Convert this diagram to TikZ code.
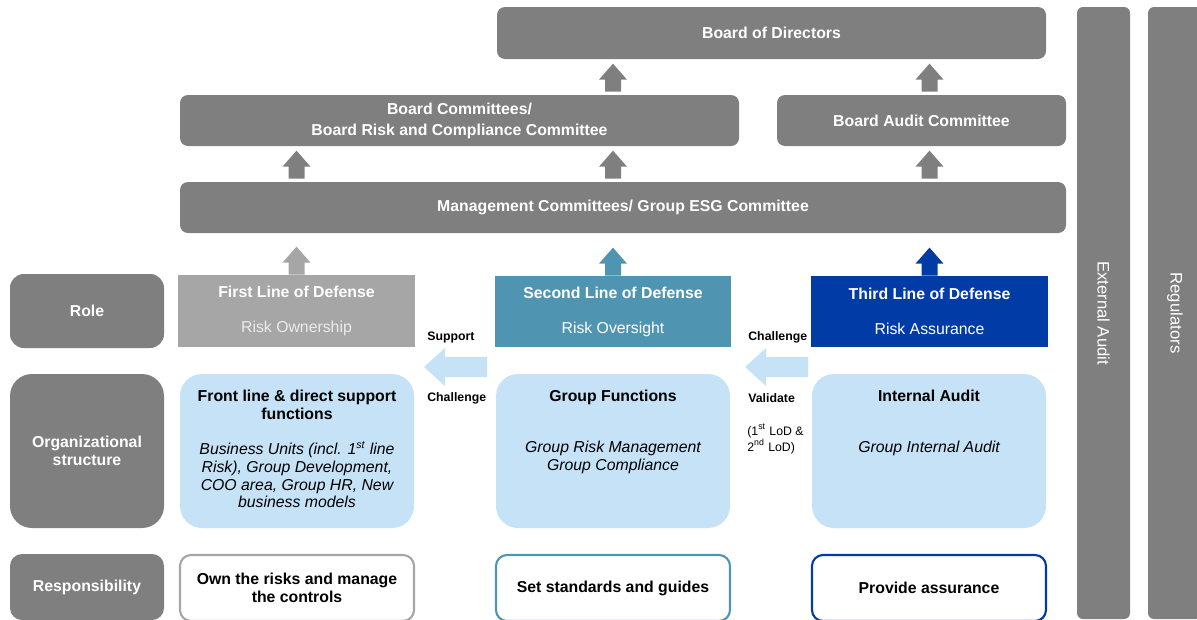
\documentclass[tikz,border=0pt]{standalone}
\usepackage{fontspec}
\setmainfont{Liberation Sans}
\definecolor{boxgray}{HTML}{7F7F7F}
\definecolor{lodgray}{HTML}{A6A6A6}
\definecolor{lodteal}{HTML}{4F95B1}
\definecolor{lodblue}{HTML}{003BA6}
\definecolor{paleblue}{HTML}{C5E2F7}
\def\pxu{0.02cm}
\tikzset{
  sz/.style 2 args={minimum width=#1*\pxu,minimum height=#2*\pxu,inner sep=0pt},
  base/.style={align=center,text=white,font=\fontsize{9}{10}\selectfont\bfseries},
  greybox/.style={base,fill=boxgray,rounded corners=0.16cm},
  rowbox/.style={base,fill=boxgray,rounded corners=#1},
  lodbox/.style={base,fill=#1},
  orgbox/.style={fill=paleblue,rounded corners=0.44cm},
  respbox/.style={draw=#1,line width=1.2pt,fill=white,rounded corners=0.22cm,align=center,font=\fontsize{9}{10}\selectfont\bfseries},
  sidebar/.style={base,font=\fontsize{9.5}{11}\selectfont,fill=boxgray,rounded corners=0.12cm,rotate=-90},
  hd/.style={align=center,font=\fontsize{9}{10}\selectfont\bfseries,inner sep=0pt,anchor=north},
  body/.style={align=center,font=\fontsize{9}{10}\selectfont\itshape,inner sep=0pt,anchor=north},
  side/.style={align=left,font=\fontsize{7}{8}\selectfont\bfseries,inner sep=0pt,anchor=west},
  uparr/.pic={\path[pic actions] (-8,-3) -- (-8,-15) -- (-14,-15) -- (0,-31) -- (14,-15) -- (8,-15) -- (8,-3) -- cycle;},
  leftarr/.pic={\path[pic actions] (0,0) -- (21,-19) -- (21,-10) -- (63,-10) -- (63,10) -- (21,10) -- (21,19) -- cycle;}
}
\begin{document}
\begin{tikzpicture}[x=0.02cm,y=-0.02cm]
  \useasboundingbox (0,0) rectangle (1197,619);
  \clip (0,0) rectangle (1197,619);
  % governance bodies
  \node[greybox,sz={549}{52}] (bod) at (771.5,33) {Board of Directors};
  \node[greybox,sz={559}{51}] (bc) at (459.5,120.5) {Board Committees/\\[2pt]Board Risk and Compliance Committee};
  \node[greybox,sz={289}{51}] (bac) at (921.5,120.5) {Board Audit Committee};
  \node[greybox,sz={886}{51}] (mgmt) at (623,207.5) {Management Committees/ Group ESG Committee};
  % external columns
  \node[sidebar,sz={612}{53}] (ext) at (1103.5,313) {External Audit};
  \node[sidebar,sz={612}{54}] (reg) at (1175,313) {Regulators};
  % row headers
  \node[rowbox=0.28cm,sz={154}{74}] (role) at (87,311) {Role};
  \node[rowbox=0.44cm,sz={154}{154}] (org) at (87,451) {Organizational\\structure};
  \node[rowbox=0.24cm,sz={154}{66}] (resp) at (87,587) {Responsibility};
  % lines of defense
  \node[lodbox=lodgray,sz={237}{72}] (l1) at (296.5,311) {First Line of Defense\\[10pt]{\mdseries\color{white!92!black}Risk Ownership}};
  \node[lodbox=lodteal,sz={236}{71}] (l2) at (613,311.5) {Second Line of Defense\\[10pt]{\mdseries Risk Oversight}};
  \node[lodbox=lodblue,sz={237}{71}] (l3) at (929.5,311.5) {Third Line of Defense\\[10pt]{\mdseries Risk Assurance}};
  % organizational structure
  \node[orgbox,sz={234}{154}] (f1) at (297,451) {};
  \node[orgbox,sz={234}{154}] (f2) at (613,451) {};
  \node[orgbox,sz={234}{154}] (f3) at (929,451) {};
  \node[hd] (f1h) at (297,390) {Front line \& direct support\\functions};
  \node[body] (f1b) at (297,441) {Business Units (incl. 1\textsuperscript{st} line\\Risk), Group Development,\\COO area, Group HR, New\\business models};
  \node[hd] (f2h) at (613,390) {Group Functions};
  \node[body] (f2b) at (613,441) {Group Risk Management\\Group Compliance};
  \node[hd] (f3h) at (929,390) {Internal Audit};
  \node[body] (f3b) at (929,441) {Group Internal Audit};
  % responsibilities
  \node[respbox=lodgray,sz={234}{66}] (r1) at (297,588) {Own the risks and manage\\the controls};
  \node[respbox=lodteal,sz={234}{66}] (r2) at (613,588) {Set standards and guides};
  \node[respbox=lodblue,sz={234}{66}] (r3) at (929,588) {Provide assurance};
  % upward arrows
  \pic[fill=boxgray] at (l2 |- bc.north) {uparr};
  \pic[fill=boxgray] at (l3 |- bac.north) {uparr};
  \pic[fill=boxgray] at (l1 |- mgmt.north) {uparr};
  \pic[fill=boxgray] at (l2 |- mgmt.north) {uparr};
  \pic[fill=boxgray] at (l3 |- mgmt.north) {uparr};
  \pic[fill=lodgray] at ([yshift=-0.06cm]l1.north) {uparr};
  \pic[fill=lodteal] at ([yshift=-0.06cm]l2.north) {uparr};
  \pic[fill=lodblue] at ([yshift=-0.06cm]l3.north) {uparr};
  % challenge arrows
  \pic[fill=paleblue] at (424,367) {leftarr};
  \pic[fill=paleblue] at (745,367) {leftarr};
  \node[side] (sup) at (427,337) {Support};
  \node[side] (ch1) at (427,398) {Challenge};
  \node[side] (ch2) at (748,337) {Challenge};
  \node[side] (val) at (748,398) {Validate};
  \node[side,font=\fontsize{7}{8}\selectfont] (lod) at (747,439) {(1\textsuperscript{st} LoD \&\\2\textsuperscript{nd} LoD)};
\end{tikzpicture}
\end{document}
